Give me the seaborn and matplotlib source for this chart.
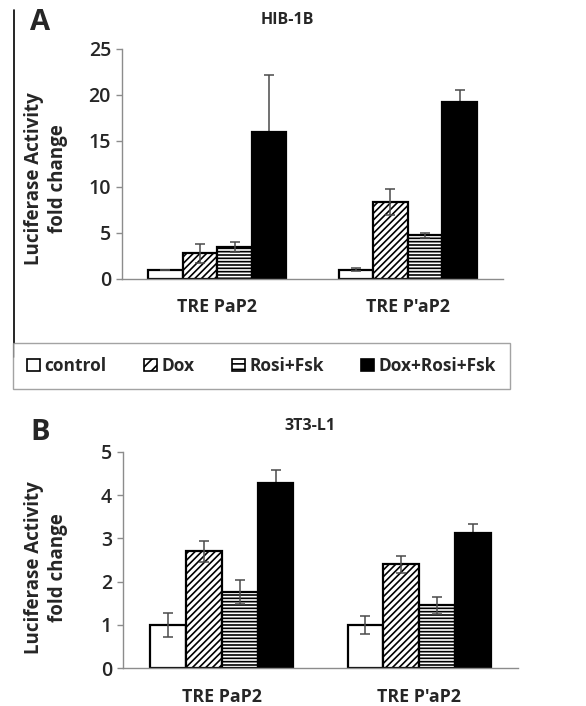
import matplotlib
matplotlib.use("Agg")
import matplotlib.pyplot as plt
import seaborn as sns
import pandas as pd
import numpy as np
from matplotlib.patches import Patch
from matplotlib.lines import Line2D

# ---------------- data ----------------
promoters = ["TRE PaP2", "TRE P'aP2"]
treatments = ["control", "Dox", "Rosi+Fsk", "Dox+Rosi+Fsk"]

hib_control = [1.0, 1.0]
hib_dox = [2.8, 8.4]
hib_rosi = [3.5, 4.75]
hib_drf = [16.0, 19.2]
hib_control_err = [0.0, 0.15]
hib_dox_err = [1.05, 1.4]
hib_rosi_err = [0.55, 0.25]
hib_drf_err = [6.2, 1.3]

t3_control = [1.0, 1.0]
t3_dox = [2.7, 2.4]
t3_rosi = [1.76, 1.45]
t3_drf = [4.28, 3.13]
t3_control_err = [0.28, 0.21]
t3_dox_err = [0.25, 0.19]
t3_rosi_err = [0.27, 0.2]
t3_drf_err = [0.3, 0.2]

hib_title = "HIB-1B"
t3_title = "3T3-L1"
ylabel = "Luciferase Activity\nfold change"
hib_yticks = [0, 5, 10, 15, 20, 25]
t3_yticks = [0, 1, 2, 3, 4, 5]

fills = ["white", "white", "white", "black"]
hatches = ["", "/////", "-----", ""]


def make_df(vals, errs):
    rows = []
    for t, v, e in zip(treatments, vals, errs):
        for p, vv, ee in zip(promoters, v, e):
            rows.append({"promoter": p, "treatment": t, "value": vv, "err": ee})
    return pd.DataFrame(rows)


hib_df = make_df([hib_control, hib_dox, hib_rosi, hib_drf],
                 [hib_control_err, hib_dox_err, hib_rosi_err, hib_drf_err])
t3_df = make_df([t3_control, t3_dox, t3_rosi, t3_drf],
                [t3_control_err, t3_dox_err, t3_rosi_err, t3_drf_err])

# ---------------- style ----------------
sns.set_style("white")
FONT = ["Open Sans", "DejaVu Sans"]
plt.rcParams["font.family"] = FONT
plt.rcParams["hatch.linewidth"] = 1.2
plt.rcParams["hatch.color"] = "black"

W, H = 586, 706
fig = plt.figure(figsize=(W / 100, H / 100), dpi=100)

spine_col = "#8c8c8c"


def draw(ax, df, yticks, ylab_xy):
    sns.barplot(data=df, x="promoter", y="value", hue="treatment",
                order=promoters, hue_order=treatments,
                palette=fills, errorbar=None, width=0.726, gap=0,
                edgecolor="black", linewidth=1.6, legend=False, ax=ax)
    for cont, hatch, t, fc in zip(ax.containers, hatches, treatments, fills):
        sub = df[df["treatment"] == t].set_index("promoter").loc[promoters]
        xs, ys = [], []
        for bar in cont:
            bar.set_hatch(hatch)
            xs.append(bar.get_x() + bar.get_width() / 2)
            ys.append(bar.get_height())
        z = 0.5 if fc == "black" else 5
        ax.errorbar(xs, ys, yerr=sub["err"].values, fmt="none",
                    ecolor="#4a4a4a", elinewidth=1.1, capsize=3.6,
                    capthick=1.1, zorder=z)
    ax.set_ylim(yticks[0], yticks[-1])
    ax.set_yticks(yticks)
    ax.set_xlim(-0.5, 1.5)
    ax.set_xticks([-0.5, 0.5, 1.5], minor=True)
    ax.tick_params(axis="x", which="major", length=0, pad=14, labelsize=12.8)
    ax.tick_params(axis="x", which="minor", length=6, width=1,
                   color=spine_col, direction="out")
    ax.tick_params(axis="y", length=4, width=1, color=spine_col,
                   direction="out", labelsize=14, pad=4, left=True)
    for lab in ax.get_xticklabels():
        lab.set_fontweight("bold")
    for lab in ax.get_yticklabels():
        lab.set_fontweight("semibold")
    sns.despine(ax=ax)
    for s in ["left", "bottom"]:
        ax.spines[s].set_color(spine_col)
        ax.spines[s].set_linewidth(1.0)
    ax.set_xlabel("")
    ax.set_ylabel(ylabel, fontsize=13.5, fontweight="bold", linespacing=1.3)
    ax.yaxis.set_label_coords(*ylab_xy)
    ax.yaxis.label.set_va("center")
    ax.yaxis.label.set_ha("center")


def fx(px):
    return px / W


def fy(py):
    return 1 - py / H


axA = fig.add_axes([fx(122), fy(279), fx(503) - fx(122), fy(49) - fy(279)])
draw(axA, hib_df, hib_yticks, (-0.2, 0.435))
axB = fig.add_axes([fx(123), fy(668.3), fx(518) - fx(123), fy(451.7) - fy(668.3)])
draw(axB, t3_df, t3_yticks, (-0.195, 0.467))

fig.text(fx(287), fy(20), hib_title, ha="center", va="center",
         fontsize=11.5, fontweight="bold")
fig.text(fx(310), fy(426), t3_title, ha="center", va="center",
         fontsize=11.5, fontweight="bold")
fig.text(fx(40), fy(23), "A", ha="center", va="center", fontsize=21,
         fontweight="bold")
fig.text(fx(40), fy(433), "B", ha="center", va="center", fontsize=21,
         fontweight="bold")

# left frame line
fig.add_artist(Line2D([fx(13.5), fx(13.5)], [fy(10), fy(357)],
                      color="black", lw=1.2))

# legend
leg_hatches = ["", "///", "---", ""]
handles = [Patch(facecolor=c, edgecolor="black", hatch=h, linewidth=1.2)
           for c, h in zip(fills, leg_hatches)]
leg = fig.legend(handles, treatments, loc="lower left",
                 bbox_to_anchor=(fx(13), fy(389), fx(510) - fx(13), fy(337) - fy(389)),
                 mode="expand", ncol=4, frameon=True, fancybox=False,
                 handlelength=0.75, handleheight=0.75, handletextpad=0.25,
                 borderaxespad=0, borderpad=0.8,
                 prop={"size": 12.5, "weight": "bold"})
leg.get_frame().set_edgecolor("#8c8c8c")
leg.get_frame().set_linewidth(1.0)

fig.savefig("out.png", dpi=100)
